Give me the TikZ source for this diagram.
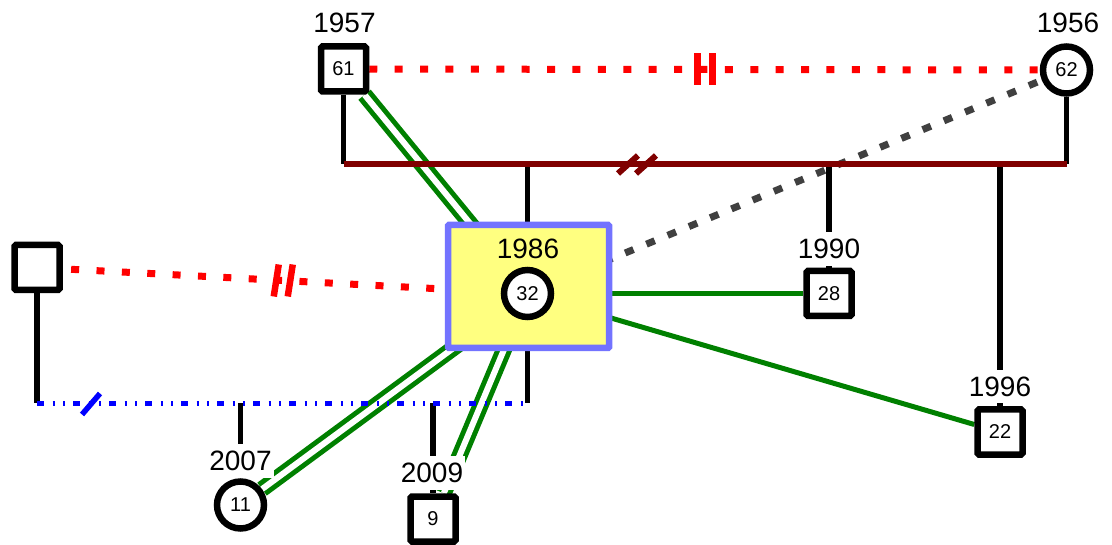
\documentclass[tikz,border=0pt]{standalone}
\usepackage{fontspec}
\setmainfont{Liberation Sans}
\usetikzlibrary{calc}
\pgfdeclarelayer{bg}
\pgfsetlayers{bg,main}
\definecolor{gred}{HTML}{FF0000}
\definecolor{ggreen}{HTML}{008000}
\definecolor{gblue}{HTML}{0000FF}
\definecolor{gmaroon}{HTML}{800000}
\definecolor{ggray}{HTML}{404040}
\definecolor{gyellow}{HTML}{FFFF80}
\definecolor{gborder}{HTML}{7373FF}
\begin{document}
\begin{tikzpicture}[x=1pt,y=-1pt,
  male/.style={draw=black,line width=6.5pt,fill=white,minimum size=45pt,inner sep=0pt,rounded corners=1.5pt,font=\fontsize{20}{22}\selectfont},
  female/.style={circle,draw=black,line width=6.5pt,fill=white,minimum size=47pt,inner sep=0pt,font=\fontsize{20}{22}\selectfont},
  yr/.style={fill=white,inner xsep=2pt,inner ysep=7pt,font=\fontsize{28}{30}\selectfont},
  famtxt/.style={inner sep=0pt,font=\fontsize{28}{30}\selectfont},
  famrect/.style={draw=gborder,fill=gyellow,line width=6.5pt,minimum width=161pt,minimum height=123pt,inner sep=0pt,rounded corners=1pt},
  kin/.style={draw=black,line width=5.5pt},
  twin/.style={draw=ggreen,line width=5pt,double=white,double distance=6pt},
  rel/.style={draw=ggreen,line width=5pt},
  sepred/.style={draw=gred,line width=7pt,dash pattern=on 8pt off 17.4pt},
  sepgray/.style={draw=ggray,line width=7pt,dash pattern=on 9pt off 14pt},
  marline/.style={draw=gmaroon,line width=6pt},
  bluline/.style={draw=gblue,line width=5.5pt,dash pattern=on 7pt off 8.5pt on 2pt off 8.5pt on 2pt off 8pt},
  redmark/.style={draw=gred,line width=6.5pt},
  marmark/.style={draw=gmaroon,line width=6pt},
  blumark/.style={draw=gblue,line width=5.5pt}
]
\useasboundingbox (0,0) rectangle (1112,545);

% family box
\node[famrect] (fam) at (528.5,286.5) {};
\node[famtxt] (l32) at (528,248.5) {1986};
\node[female] (c32) at (527.5,293.5) {32};

% persons
\node[male] (b61) at (343.5,69) {61};
\node[yr] (l61) at (344.5,23) {1957};
\node[female] (c62) at (1066.5,70) {62};
\node[yr] (l62) at (1068,23) {1956};
\node[male] (b28) at (829,293.5) {28};
\node[yr] (l28) at (829,249) {1990};
\node[male] (b22) at (1000,432) {22};
\node[yr] (l22) at (1000,386.5) {1996};
\node[male] (bL) at (37,267.5) {};
\node[female] (c11) at (240.5,505) {11};
\node[yr] (l11) at (240.5,461) {2007};
\node[male] (b9) at (433,519) {9};
\node[yr] (l9) at (432,473) {2009};

% junction coordinates
\coordinate (m1) at (343.5,164.5);
\coordinate (m2) at (1066.5,164.5);
\coordinate (s1) at (37,403.5);
\coordinate (s2) at (c32 |- s1);
\coordinate (dvA) at ($(b61)!0.5!(c62)$);
\coordinate (dvB) at ($(bL)!0.5!(c32)$);
\coordinate (dvM) at (637,164.5);
\coordinate (dvS) at (91,404);

\begin{pgfonlayer}{bg}
  % green relations
  \draw[twin] (b61) -- (c32);
  \draw[twin] (c11) -- (c32);
  \draw[twin] (b9) -- (c32);
  \draw[rel] (c32) -- (b28);
  \draw[rel] (c32) -- (b22);
  % black kin lines
  \draw[kin] (b61) -- (m1);
  \draw[kin] (c62) -- (m2);
  \draw[kin] (c32 |- m1) -- (c32);
  \draw[kin] (b28 |- m1) -- (b28);
  \draw[kin] (b22 |- m1) -- (b22);
  \draw[kin] (bL) -- (s1);
  \draw[kin] (c32) -- (s2);
  \draw[kin] (c11 |- s1) -- (c11);
  \draw[kin] (b9 |- s1) -- (b9);
  % separated / dotted relations
  \draw[sepred] (b61) -- (c62);
  \draw[sepred,dash phase=17pt] (bL) -- (c32);
  \draw[sepgray,dash phase=13pt] (c32) -- (c62);
  % marriage lines
  \draw[marline] (m1) -- (m2);
  \draw[bluline] (s1) -- (s2);
  % marks
  \draw[redmark] ($(dvA)+(-7.5,-16)$) -- ($(dvA)+(-7.5,16)$);
  \draw[redmark] ($(dvA)+(7.5,-16)$) -- ($(dvA)+(7.5,16)$);
  \draw[redmark] ($(dvB)+(-8.5,16)$) -- ($(dvB)+(-3.5,-16)$);
  \draw[redmark] ($(dvB)+(5.5,16)$) -- ($(dvB)+(10.5,-16)$);
  \draw[marmark] ($(dvM)+(-19,9)$) -- ($(dvM)+(1,-9)$);
  \draw[marmark] ($(dvM)+(-1,9)$) -- ($(dvM)+(19,-9)$);
  \draw[blumark] ($(dvS)+(-9,10.5)$) -- ($(dvS)+(9,-10.5)$);
\end{pgfonlayer}
\end{tikzpicture}
\end{document}
